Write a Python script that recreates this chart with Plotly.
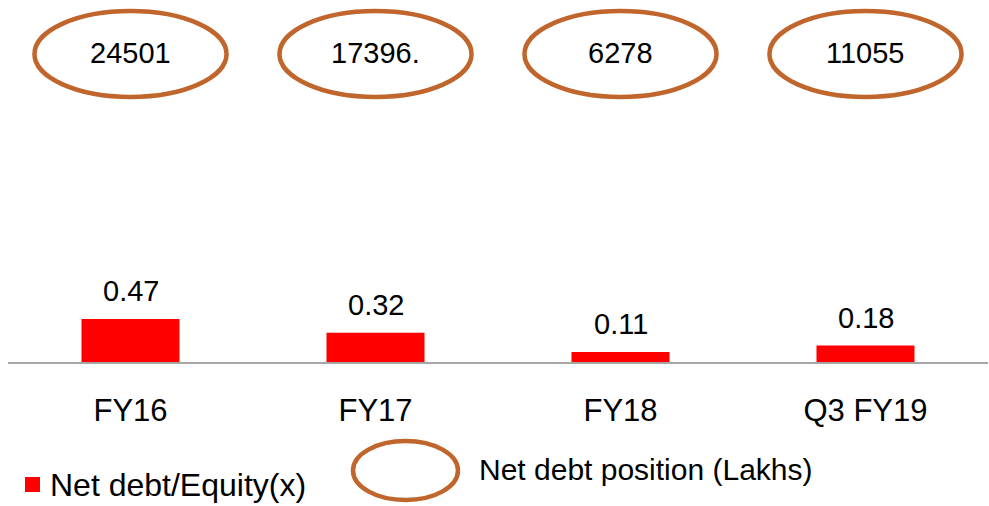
import plotly.graph_objects as go

categories = ["FY16", "FY17", "FY18", "Q3 FY19"]
net_debt_equity = [0.47, 0.32, 0.11, 0.18]
net_debt_position = ["24501", "17396.", "6278", "11055"]
bar_name = "Net debt/Equity(x)"
ellipse_name = "Net debt position (Lakhs)"

FONT = "Liberation Sans, Arial, sans-serif"
RED = "#FF0000"
BROWN = "#C0652B"

W, H = 989, 506
ML, MR, MT, MB = 8, 1, 0, 144
plot_w = W - ML - MR
plot_h = H - MT - MB


def px_x(p):
    return (p - ML) / plot_w


def px_y(p):
    return (H - MB - p) / plot_h


fig = go.Figure()
fig.add_trace(go.Bar(
    x=list(range(len(categories))),
    y=net_debt_equity,
    name=bar_name,
    marker=dict(color=RED, line=dict(width=0)),
    width=0.4,
    showlegend=False,
    hoverinfo="skip",
))

annotations = []
shapes = []

# value labels on bars
for i, v in enumerate(net_debt_equity):
    annotations.append(dict(
        x=i, y=v, xref="x", yref="y", text=f"{v:.2f}",
        showarrow=False, yanchor="bottom", yshift=10,
        font=dict(family=FONT, size=29, color="#000000"),
    ))

# ellipses with net debt position
for i, t in enumerate(net_debt_position):
    shapes.append(dict(
        type="circle", xref="x", yref="paper",
        x0=i - 0.392, x1=i + 0.392,
        y0=px_y(97), y1=px_y(11),
        line=dict(color=BROWN, width=4.5), fillcolor="rgba(0,0,0,0)",
    ))
    annotations.append(dict(
        x=i, y=px_y(53), xref="x", yref="paper", text=t,
        showarrow=False, yanchor="middle",
        font=dict(family=FONT, size=29, color="#000000"),
    ))

# custom legend
shapes.append(dict(
    type="rect", xref="paper", yref="paper",
    x0=px_x(25), x1=px_x(40), y0=px_y(492), y1=px_y(477),
    fillcolor=RED, line=dict(width=0),
))
annotations.append(dict(
    x=px_x(48), y=px_y(485), xref="paper", yref="paper", text=bar_name,
    showarrow=False, xanchor="left", yanchor="middle",
    font=dict(family=FONT, size=32, color="#000000"),
))
shapes.append(dict(
    type="circle", xref="paper", yref="paper",
    x0=px_x(353), x1=px_x(458), y0=px_y(500), y1=px_y(441),
    line=dict(color=BROWN, width=4.5), fillcolor="rgba(0,0,0,0)",
))
annotations.append(dict(
    x=px_x(477), y=px_y(470), xref="paper", yref="paper", text=ellipse_name,
    showarrow=False, xanchor="left", yanchor="middle",
    font=dict(family=FONT, size=30, color="#000000"),
))

fig.update_layout(
    width=W, height=H,
    margin=dict(l=ML, r=MR, t=MT, b=MB, pad=0),
    paper_bgcolor="white", plot_bgcolor="white",
    shapes=shapes, annotations=annotations,
    xaxis=dict(
        tickmode="array", tickvals=list(range(len(categories))), ticktext=categories,
        range=[-0.5, len(categories) - 0.5],
        showline=True, linecolor="#A6A6A6", linewidth=1.5,
        showgrid=False, zeroline=False, ticks="",
        tickfont=dict(family=FONT, size=31, color="#000000"),
        ticklabelstandoff=20,
        fixedrange=True,
    ),
    yaxis=dict(
        range=[0, plot_h / 91.5], visible=False, showgrid=False, zeroline=False,
        fixedrange=True,
    ),
    bargap=0.6,
)

fig.write_html(
    "out.html",
    config={"displayModeBar": False},
    post_script="document.body.style.margin='0';document.body.style.overflow='hidden';",
)
